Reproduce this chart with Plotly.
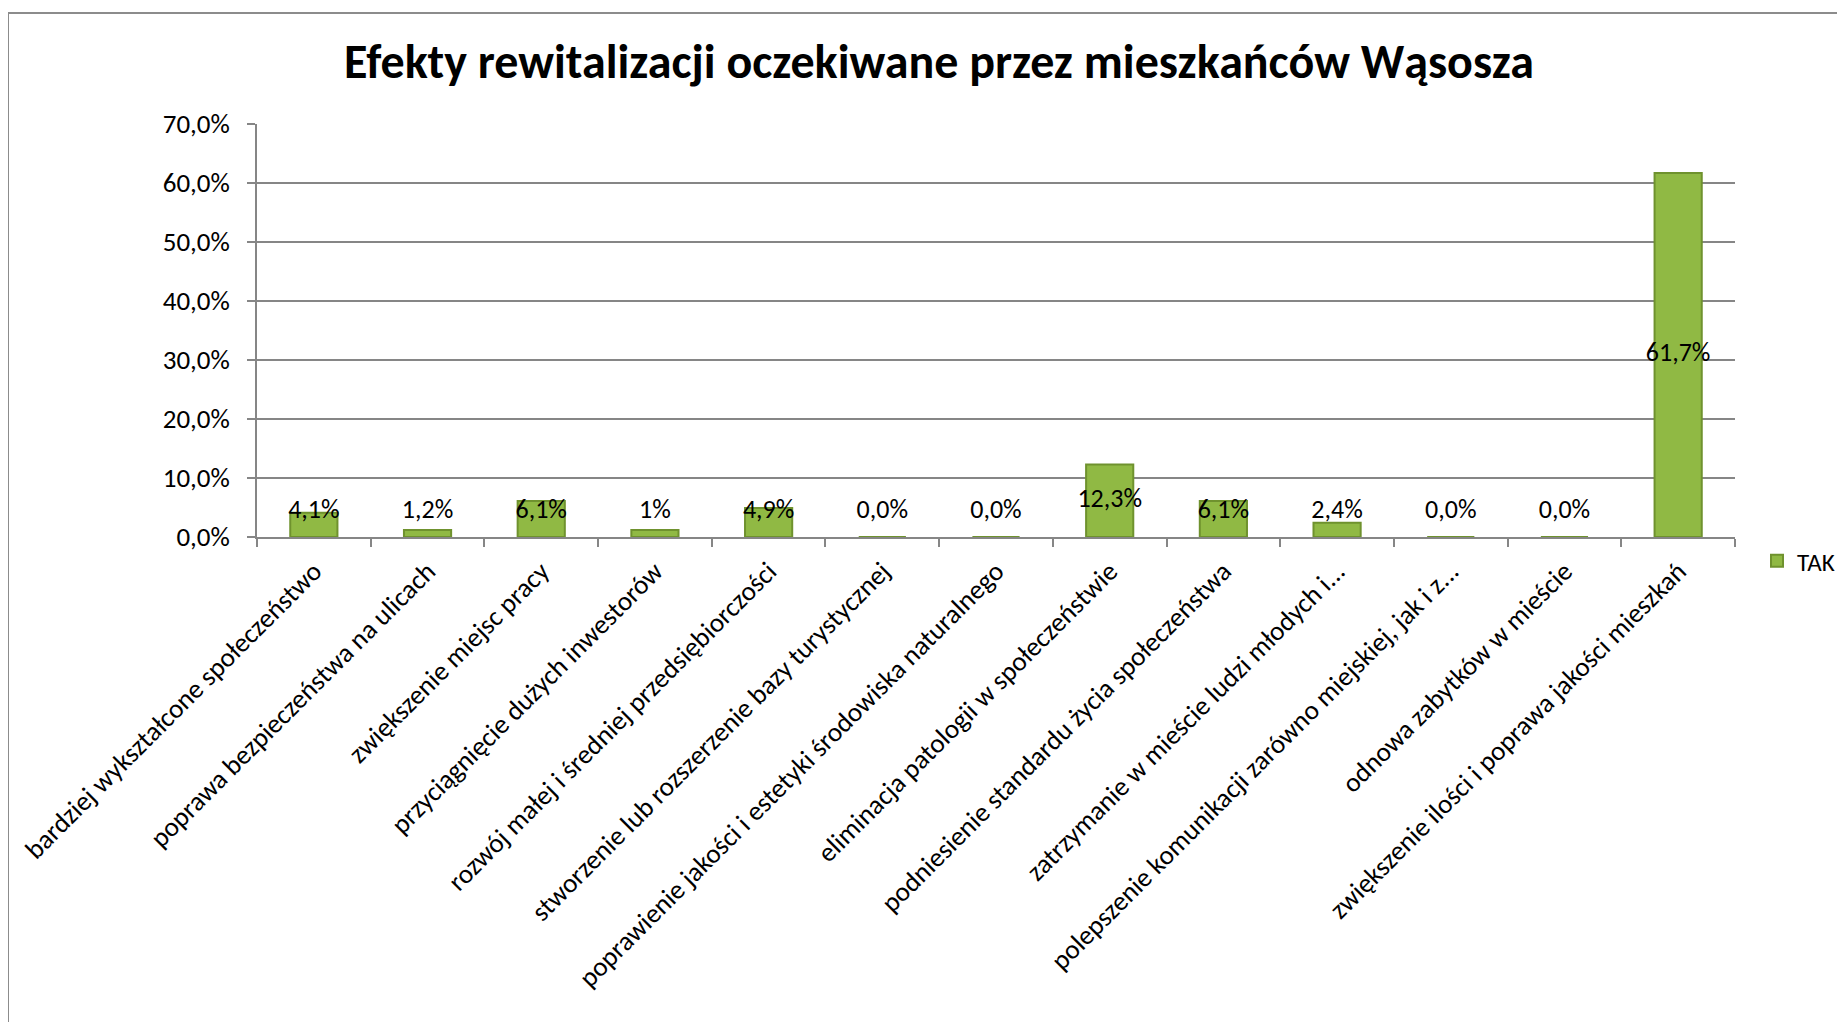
import plotly.graph_objects as go

categories = [
    "bardziej wykształcone społeczeństwo",
    "poprawa bezpieczeństwa na ulicach",
    "zwiększenie miejsc pracy",
    "przyciągnięcie dużych inwestorów",
    "rozwój małej i średniej przedsiębiorczości",
    "stworzenie lub rozszerzenie bazy turystycznej",
    "poprawienie jakości i estetyki środowiska naturalnego",
    "eliminacja patologii w społeczeństwie",
    "podniesienie standardu życia społeczeństwa",
    "zatrzymanie w mieście ludzi młodych i...",
    "polepszenie komunikacji zarówno miejskiej, jak i z...",
    "odnowa zabytków w mieście",
    "zwiększenie ilości i poprawa jakości mieszkań",
]
values = [4.1, 1.2, 6.1, 1.2, 4.9, 0.0, 0.0, 12.3, 6.1, 2.4, 0.0, 0.0, 61.7]
value_labels = ["4,1%", "1,2%", "6,1%", "1%", "4,9%", "0,0%", "0,0%",
                "12,3%", "6,1%", "2,4%", "0,0%", "0,0%", "61,7%"]
series_name = "TAK"
y_ticks = [0, 10, 20, 30, 40, 50, 60, 70]
y_tick_labels = ["0,0%", "10,0%", "20,0%", "30,0%", "40,0%", "50,0%", "60,0%", "70,0%"]

FONT = "Carlito, 'Liberation Sans Narrow', 'Open Sans', sans-serif"

W, H = 1845, 1022
OFF = 8  # page body margin
L, R, T, B = 257 - OFF, 1735 - OFF, 124 - OFF, 537 - OFF

def px_to_paper_x(px):
    return (px - L) / (R - L)

def px_to_paper_y(py):
    return (B - py) / (B - T)

fig = go.Figure()
fig.add_trace(go.Bar(
    x=categories, y=values, name=series_name,
    marker=dict(color="#90b944", line=dict(color="#6f922e", width=2)),
    showlegend=True,
))
label_y = [max(v / 2, 4.3) for v in values]
fig.add_trace(go.Scatter(
    x=categories, y=label_y, mode="text", text=value_labels,
    textfont=dict(family=FONT, size=26, color="#000000"),
    textposition="middle center", showlegend=False, hoverinfo="skip",
))

fig.update_layout(
    width=W, height=H,
    margin=dict(l=L, r=W - R, t=T, b=H - B, autoexpand=False),
    paper_bgcolor="white", plot_bgcolor="white",
    bargap=0.585,
    font=dict(family=FONT, size=27, color="#000000"),
    title=dict(
        text="<b>Efekty rewitalizacji oczekiwane przez mieszkańców Wąsosza</b>",
        x=(939 - OFF) / W, xanchor="center", xref="container",
        y=1 - (61 - OFF) / H, yanchor="middle", yref="container",
        font=dict(family=FONT, size=48, color="#000000"),
    ),
    legend=dict(
        x=px_to_paper_x(1749), y=px_to_paper_y(553), xanchor="left", yanchor="middle",
        font=dict(family=FONT, size=25), bgcolor="rgba(0,0,0,0)",
        itemwidth=30, borderwidth=0,
    ),
    showlegend=True,
    shapes=[dict(
        type="rect", xref="paper", yref="paper",
        x0=px_to_paper_x(0), y0=px_to_paper_y(1200),
        x1=px_to_paper_x(2000), y1=px_to_paper_y(5),
        line=dict(color="#8c8c8c", width=2), fillcolor="rgba(0,0,0,0)", layer="below",
    )],
)
fig.update_xaxes(
    type="category", range=[-0.5, len(categories) - 0.5],
    tickangle=-45, tickson="boundaries", ticks="outside",
    ticklen=8, tickcolor="#868686", tickwidth=1.5,
    showline=True, linecolor="#868686", linewidth=1.5,
    showgrid=False, tickfont=dict(family=FONT, size=27),
    ticklabelstandoff=6,
)
fig.update_yaxes(
    range=[0, 70], tickvals=y_ticks, ticktext=y_tick_labels,
    ticks="outside", ticklen=8, tickcolor="#868686", tickwidth=1.5,
    showline=True, linecolor="#868686", linewidth=1.5,
    showgrid=True, gridcolor="#868686", gridwidth=1.5, zeroline=False,
    tickfont=dict(family=FONT, size=27), ticklabelstandoff=12,
)

fig.write_html("out.html")
